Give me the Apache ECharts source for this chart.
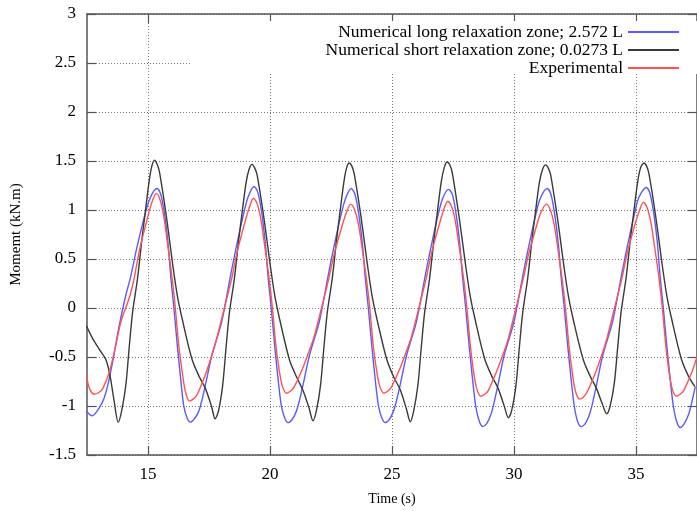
<!DOCTYPE html>
<html>
<head>
<meta charset="utf-8">
<script src="https://cdn.jsdelivr.net/npm/echarts@6/dist/echarts.min.js"></script>
<style>
  html, body { margin: 0; padding: 0; background: #fff; }
  #chart { width: 697px; height: 511px; }
</style>
</head>
<body>
<div id="chart"></div>
<script>
// series names
var seriesNames = [
  'Numerical long relaxation zone; 2.572 L',
  'Numerical short relaxation zone; 0.0273 L',
  'Experimental'
]
var xTicks = [15, 20, 25, 30, 35]

// numerical, long relaxation zone (blue)
var blueLong = [
  [12.47, -1.05], [12.71, -1.10], [13.0, -1.02], [13.2, -0.92], [13.35, -0.79], [13.55, -0.55],
  [13.82, -0.18], [14.09, 0.13], [14.27, 0.30], [14.53, 0.60], [14.86, 0.94], [15.1, 1.13],
  [15.37, 1.22], [15.52, 1.16], [15.67, 0.97], [15.82, 0.66], [15.94, 0.30], [16.07, -0.02],
  [16.2, -0.38], [16.33, -0.7], [16.46, -0.99], [16.6, -1.12], [16.74, -1.165],
  [16.9, -1.13], [17.07, -1.06], [17.2, -0.95], [17.35, -0.79], [17.62, -0.48], [18.02, -0.14],
  [18.36, 0.30], [18.6, 0.60], [18.9, 0.94], [19.1, 1.13], [19.35, 1.24], [19.5, 1.18],
  [19.65, 0.99], [19.8, 0.68], [19.92, 0.32], [20.05, 0.0], [20.19, -0.38], [20.32, -0.7],
  [20.46, -0.99], [20.6, -1.12], [20.74, -1.17],
  [20.9, -1.14], [21.07, -1.06], [21.2, -0.95], [21.35, -0.79], [21.62, -0.48], [22.02, -0.14],
  [22.36, 0.30], [22.6, 0.60], [22.9, 0.94], [23.1, 1.12], [23.33, 1.22], [23.48, 1.16],
  [23.63, 0.97], [23.78, 0.67], [23.9, 0.32], [24.03, 0.0], [24.17, -0.38], [24.3, -0.7],
  [24.44, -0.99], [24.58, -1.12], [24.72, -1.17],
  [24.88, -1.14], [25.05, -1.06], [25.18, -0.95], [25.33, -0.79], [25.6, -0.48], [26.0, -0.14],
  [26.34, 0.30], [26.58, 0.60], [26.88, 0.94], [27.08, 1.12], [27.32, 1.21], [27.47, 1.16],
  [27.62, 0.97], [27.77, 0.67], [27.89, 0.32], [28.02, 0.0], [28.16, -0.38], [28.29, -0.7],
  [28.43, -1.0], [28.57, -1.15], [28.72, -1.21],
  [28.88, -1.18], [29.05, -1.09], [29.18, -0.97], [29.33, -0.8], [29.6, -0.48], [30.0, -0.14],
  [30.34, 0.30], [30.58, 0.60], [30.88, 0.94], [31.08, 1.12], [31.36, 1.22], [31.51, 1.16],
  [31.66, 0.97], [31.81, 0.67], [31.93, 0.32], [32.06, 0.0], [32.2, -0.38], [32.33, -0.7],
  [32.47, -1.0], [32.61, -1.16], [32.76, -1.21],
  [32.92, -1.18], [33.09, -1.09], [33.22, -0.97], [33.37, -0.8], [33.64, -0.48], [34.04, -0.14],
  [34.38, 0.30], [34.62, 0.60], [34.92, 0.94], [35.12, 1.13], [35.42, 1.23], [35.57, 1.17],
  [35.72, 0.98], [35.87, 0.68], [35.99, 0.32], [36.12, 0.0], [36.26, -0.38], [36.39, -0.7],
  [36.53, -1.0], [36.67, -1.16], [36.82, -1.22],
  [36.98, -1.18], [37.15, -1.09], [37.28, -0.97], [37.43, -0.8]
]

// numerical, short relaxation zone (black)
var blackShort = [
  [12.47, -0.18], [12.75, -0.32], [13.0, -0.42], [13.28, -0.53], [13.45, -0.7], [13.6, -0.93],
  [13.78, -1.165],
  [13.92, -1.05], [14.09, -0.79], [14.23, -0.40], [14.37, -0.04], [14.57, 0.30], [14.75, 0.70],
  [14.87, 0.94], [15.05, 1.30], [15.16, 1.45], [15.27, 1.507], [15.37, 1.47], [15.47, 1.39],
  [15.75, 0.94], [16.02, 0.43], [16.2, 0.13], [16.4, -0.11], [16.8, -0.52], [17.1, -0.70],
  [17.35, -0.82], [17.6, -1.0], [17.75, -1.13],
  [17.89, -1.05], [18.06, -0.79], [18.2, -0.40], [18.34, -0.04], [18.54, 0.30], [18.72, 0.70],
  [18.84, 0.94], [19.02, 1.28], [19.15, 1.42], [19.27, 1.466], [19.37, 1.43], [19.47, 1.36],
  [19.75, 0.92], [20.02, 0.42], [20.2, 0.12], [20.4, -0.12], [20.8, -0.53], [21.1, -0.71],
  [21.35, -0.84], [21.6, -1.02], [21.76, -1.15],
  [21.9, -1.05], [22.07, -0.79], [22.21, -0.40], [22.35, -0.04], [22.55, 0.30], [22.73, 0.70],
  [22.85, 0.94], [23.03, 1.29], [23.14, 1.43], [23.25, 1.48], [23.35, 1.45], [23.45, 1.37],
  [23.73, 0.93], [24.0, 0.43], [24.18, 0.13], [24.38, -0.11], [24.78, -0.52], [25.08, -0.71],
  [25.33, -0.83], [25.58, -1.02], [25.75, -1.16],
  [25.89, -1.05], [26.06, -0.79], [26.2, -0.40], [26.34, -0.04], [26.54, 0.30], [26.72, 0.70],
  [26.84, 0.94], [27.02, 1.29], [27.15, 1.44], [27.27, 1.49], [27.37, 1.46], [27.47, 1.38],
  [27.75, 0.93], [28.02, 0.43], [28.2, 0.13], [28.4, -0.11], [28.8, -0.52], [29.1, -0.70],
  [29.35, -0.82], [29.6, -1.0], [29.77, -1.12],
  [29.91, -1.04], [30.08, -0.79], [30.22, -0.40], [30.36, -0.04], [30.56, 0.30], [30.74, 0.70],
  [30.86, 0.94], [31.04, 1.28], [31.18, 1.42], [31.3, 1.46], [31.4, 1.43], [31.5, 1.36],
  [31.78, 0.92], [32.05, 0.42], [32.23, 0.12], [32.43, -0.12], [32.83, -0.52], [33.13, -0.70],
  [33.38, -0.82], [33.62, -0.98], [33.8, -1.08],
  [33.94, -1.0], [34.11, -0.77], [34.25, -0.40], [34.39, -0.04], [34.59, 0.30], [34.77, 0.70],
  [34.89, 0.94], [35.07, 1.29], [35.2, 1.44], [35.33, 1.48], [35.43, 1.45], [35.53, 1.37],
  [35.81, 0.93], [36.08, 0.43], [36.26, 0.13], [36.46, -0.11], [36.86, -0.52], [37.16, -0.70],
  [37.41, -0.80]
]

// experimental (red)
var redExp = [
  [12.47, -0.68], [12.6, -0.82], [12.8, -0.88], [13.0, -0.86], [13.15, -0.82], [13.42, -0.65],
  [13.62, -0.45], [13.89, -0.14], [14.24, 0.11], [14.43, 0.30], [14.66, 0.60], [15.0, 0.94],
  [15.16, 1.08], [15.34, 1.17], [15.5, 1.10], [15.65, 0.93], [15.8, 0.66], [15.99, 0.30],
  [16.12, 0.0], [16.26, -0.38], [16.4, -0.65], [16.53, -0.85], [16.7, -0.95],
  [16.85, -0.93], [17.0, -0.89], [17.35, -0.68], [17.62, -0.48], [17.82, -0.31], [18.16, 0.03],
  [18.43, 0.30], [18.66, 0.58], [19.0, 0.90], [19.16, 1.03], [19.32, 1.12], [19.48, 1.06],
  [19.63, 0.90], [19.78, 0.64], [19.97, 0.29], [20.1, 0.0], [20.24, -0.38], [20.38, -0.64],
  [20.51, -0.80], [20.68, -0.87],
  [20.83, -0.85], [20.98, -0.81], [21.33, -0.62], [21.6, -0.44], [21.8, -0.30], [22.14, 0.03],
  [22.41, 0.30], [22.64, 0.56], [22.98, 0.86], [23.14, 0.98], [23.31, 1.06], [23.47, 1.0],
  [23.62, 0.86], [23.77, 0.62], [23.96, 0.28], [24.09, 0.0], [24.23, -0.38], [24.37, -0.64],
  [24.5, -0.80], [24.67, -0.87],
  [24.82, -0.85], [24.97, -0.81], [25.32, -0.62], [25.59, -0.44], [25.79, -0.30], [26.13, 0.03],
  [26.4, 0.30], [26.63, 0.57], [26.97, 0.88], [27.13, 1.01], [27.29, 1.09], [27.45, 1.03],
  [27.6, 0.88], [27.75, 0.63], [27.94, 0.29], [28.07, 0.0], [28.21, -0.38], [28.35, -0.66],
  [28.48, -0.83], [28.65, -0.90],
  [28.8, -0.88], [28.95, -0.84], [29.3, -0.64], [29.57, -0.46], [29.77, -0.31], [30.11, 0.03],
  [30.38, 0.30], [30.61, 0.56], [30.95, 0.86], [31.11, 0.98], [31.33, 1.06], [31.49, 1.0],
  [31.64, 0.86], [31.79, 0.62], [31.98, 0.28], [32.11, 0.0], [32.25, -0.38], [32.39, -0.66],
  [32.52, -0.85], [32.69, -0.93],
  [32.84, -0.91], [32.99, -0.86], [33.34, -0.66], [33.61, -0.47], [33.81, -0.31], [34.15, 0.03],
  [34.42, 0.30], [34.65, 0.57], [34.99, 0.88], [35.15, 1.0], [35.3, 1.08], [35.46, 1.02],
  [35.61, 0.87], [35.76, 0.63], [35.95, 0.29], [36.08, 0.0], [36.22, -0.38], [36.36, -0.66],
  [36.49, -0.83], [36.66, -0.90],
  [36.81, -0.88], [36.96, -0.84], [37.31, -0.64], [37.5, -0.50]
]

var font = 'Liberation Serif'
var chart = echarts.init(document.getElementById('chart'), null, { renderer: 'canvas' })

function lineSeries(name, data, color) {
  return {
    name: name,
    type: 'line',
    data: data,
    showSymbol: false,
    symbol: 'none',
    smooth: 0.3,
    clip: true,
    lineStyle: { color: color, width: 1.4 },
    itemStyle: { color: color },
    z: 2
  }
}

var axisLine = { show: true, onZero: false, lineStyle: { color: '#555', width: 1.5 } }
var tick = { show: true, inside: true, length: 9, lineStyle: { color: '#555', width: 1.2 } }
var grid = { show: true, lineStyle: { color: '#777', type: [1, 2], width: 1 } }

chart.setOption({
  animation: false,
  backgroundColor: '#fff',
  grid: { left: 87, top: 14, width: 615, height: 443 },
  legend: {
    data: seriesNames,
    orient: 'vertical',
    align: 'right',
    right: 17,
    top: 23,
    padding: 0,
    itemWidth: 51,
    itemHeight: 14,
    itemGap: 0,
    itemStyle: { opacity: 0 },
    textStyle: { fontFamily: font, fontSize: 17.5, lineHeight: 17.5, color: '#000' }
  },
  graphic: [{
    type: 'rect',
    shape: { x: 190, y: 21, width: 520, height: 53 },
    style: { fill: '#fff' },
    z: 3
  }],
  xAxis: [{
    type: 'value',
    min: 12.5,
    max: 37.5,
    name: 'Time (s)',
    nameLocation: 'middle',
    nameGap: 37,
    nameTextStyle: { fontFamily: font, fontSize: 14, color: '#000' },
    axisLine: axisLine,
    axisTick: Object.assign({ customValues: xTicks }, tick),
    axisLabel: { customValues: xTicks, margin: 11, fontFamily: font, fontSize: 17, color: '#000' },
    splitLine: grid
  }, {
    type: 'value',
    position: 'top',
    min: 12.5,
    max: 37.5,
    axisLine: axisLine,
    axisTick: Object.assign({ customValues: xTicks }, tick),
    axisLabel: { show: false },
    splitLine: { show: false }
  }],
  yAxis: [{
    type: 'value',
    min: -1.5,
    max: 3,
    interval: 0.5,
    name: 'Momemt (kN.m)',
    nameLocation: 'middle',
    nameGap: 63,
    nameTextStyle: { fontFamily: font, fontSize: 15, color: '#000' },
    axisLine: axisLine,
    axisTick: tick,
    axisLabel: { margin: 11, fontFamily: font, fontSize: 17, color: '#000' },
    splitLine: grid
  }, {
    type: 'value',
    position: 'right',
    min: -1.5,
    max: 3,
    interval: 0.5,
    axisLine: axisLine,
    axisTick: tick,
    axisLabel: { show: false },
    splitLine: { show: false }
  }],
  series: [
    lineSeries(seriesNames[0], blueLong, '#5a5aff'),
    lineSeries(seriesNames[1], blackShort, '#3a3a3a'),
    lineSeries(seriesNames[2], redExp, '#ff5252')
  ]
})
</script>
</body>
</html>
